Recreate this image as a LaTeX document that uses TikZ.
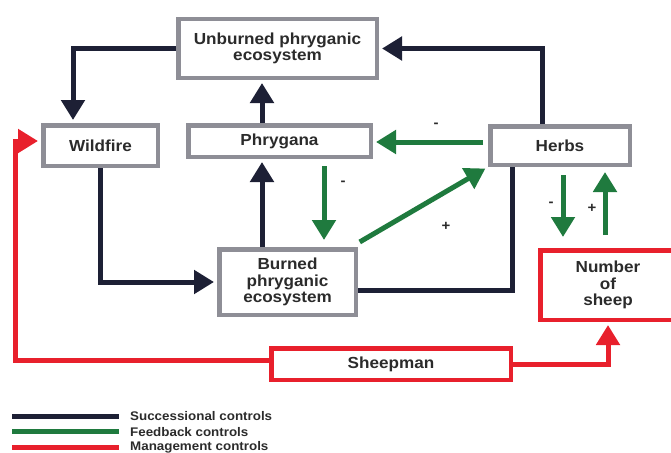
\documentclass[tikz,border=0pt]{standalone}
\usepackage{fontspec}
\setmainfont{Liberation Sans}[FakeStretch=1.07]
\usetikzlibrary{arrows.meta}
\definecolor{navy}{HTML}{1D2035}
\definecolor{fbgreen}{HTML}{1F7A3E}
\definecolor{mgred}{HTML}{E8202C}
\definecolor{boxgrey}{HTML}{8E8E96}
\definecolor{ink}{HTML}{2B2B2B}
\tikzset{box/.style={draw=boxgrey, line width=4.5pt, fill=white, inner sep=0pt, align=center, text=ink, font=\bfseries\fontsize{16}{16.5}\selectfont}}
\tikzset{rbox/.style={box, draw=mgred}}
\tikzset{tip/.style={-{Triangle[width=23pt,length=20pt]}, shorten >=3pt}}
\tikzset{succ/.style={draw=navy, line width=5pt}}
\tikzset{feed/.style={draw=fbgreen, line width=5pt}}
\tikzset{mgmt/.style={draw=mgred, line width=5pt}}
\tikzset{sign/.style={text=ink, inner sep=0pt, font=\bfseries\fontsize{14}{14}\selectfont}}
\tikzset{key/.style={anchor=west, text=ink, inner sep=0pt, font=\bfseries\fontsize{12.5}{13}\selectfont}}

\begin{document}
\begin{tikzpicture}[x=1pt, y=-1pt]
\useasboundingbox (0,0) rectangle (671,452);
\node (unb) at (277.5,48.5) [box, minimum width=198.5pt, minimum height=58.5pt] {Unburned phryganic\\ecosystem};
\node (wild) at (100.5,145.5) [box, minimum width=114.5pt, minimum height=40.5pt] {Wildfire};
\node (phry) at (279.5,141) [box, minimum width=182.5pt, minimum height=31.5pt] {Phrygana};
\node (herbs) at (560,145.5) [box, minimum width=139.5pt, minimum height=38.5pt] {Herbs};
\node (burn) at (287.5,282) [box, minimum width=136.5pt, minimum height=65.5pt] {Burned\\phryganic\\ecosystem};
\node (num) at (608,285) [rbox, minimum width=135.5pt, minimum height=69.5pt] {Number\\of\\sheep};
\node (sheep) at (391,364) [rbox, minimum width=239.5pt, minimum height=31.5pt] {Sheepman};

\draw[succ,tip] (unb.west) -| ([xshift=-27.5pt]wild.north);
\draw[succ,tip] ([xshift=-17.5pt]phry.north) -- ([xshift=-17.5pt]phry.north |- unb.south);
\draw[succ,tip] ([xshift=-18pt]herbs.north) |- (unb.east);
\draw[succ,tip] (wild.south) |- (burn.west);
\draw[succ,tip] ([xshift=-25.5pt]burn.north) -- ([xshift=-25.5pt]burn.north |- phry.south);
\draw[succ] ([xshift=-48pt]herbs.south) |- ([yshift=-8pt]burn.east);

\draw[feed,tip,shorten <=5pt] ([yshift=3.5pt]herbs.west) -- ([yshift=3.5pt]herbs.west -| phry.east);
\draw[feed,tip,shorten <=7pt,shorten >=7pt] ([xshift=44.5pt]phry.south) -- ([xshift=44.5pt]phry.south |- burn.north);
\draw[feed,tip,shorten <=2pt] ([yshift=4pt]burn.north east) -- (herbs.south west);
\draw[feed,tip,shorten <=8pt,shorten >=11pt] ([xshift=3pt]herbs.south) -- ([xshift=3pt]herbs.south |- num.north);
\draw[feed,tip,shorten <=13pt,shorten >=5pt] ([xshift=-3pt]num.north) -- ([xshift=-3pt]num.north |- herbs.south);
\node[sign] (s1) at (436,125) {-};
\node[sign] (s2) at (343,183) {-};
\node[sign] (s3) at (446,226) {+};
\node[sign] (s4) at (551,204) {-};
\node[sign] (s5) at (592,208) {+};

\coordinate (rc) at (15,360);
\draw[mgmt,tip] ([yshift=4pt]sheep.west) -- (rc) |- ([yshift=4.5pt]wild.west);
\draw[mgmt,tip] (sheep.east) -| (num.south);

\draw[succ] (12,416) -- (119,416);
\draw[feed] (12,431) -- (119,431);
\draw[mgmt] (12,447) -- (119,447);
\node[key] (k1) at (130,416) {Successional controls};
\node[key] (k2) at (130,432) {Feedback controls};
\node[key] (k3) at (130,447) {Management controls};
\end{tikzpicture}
\end{document}
